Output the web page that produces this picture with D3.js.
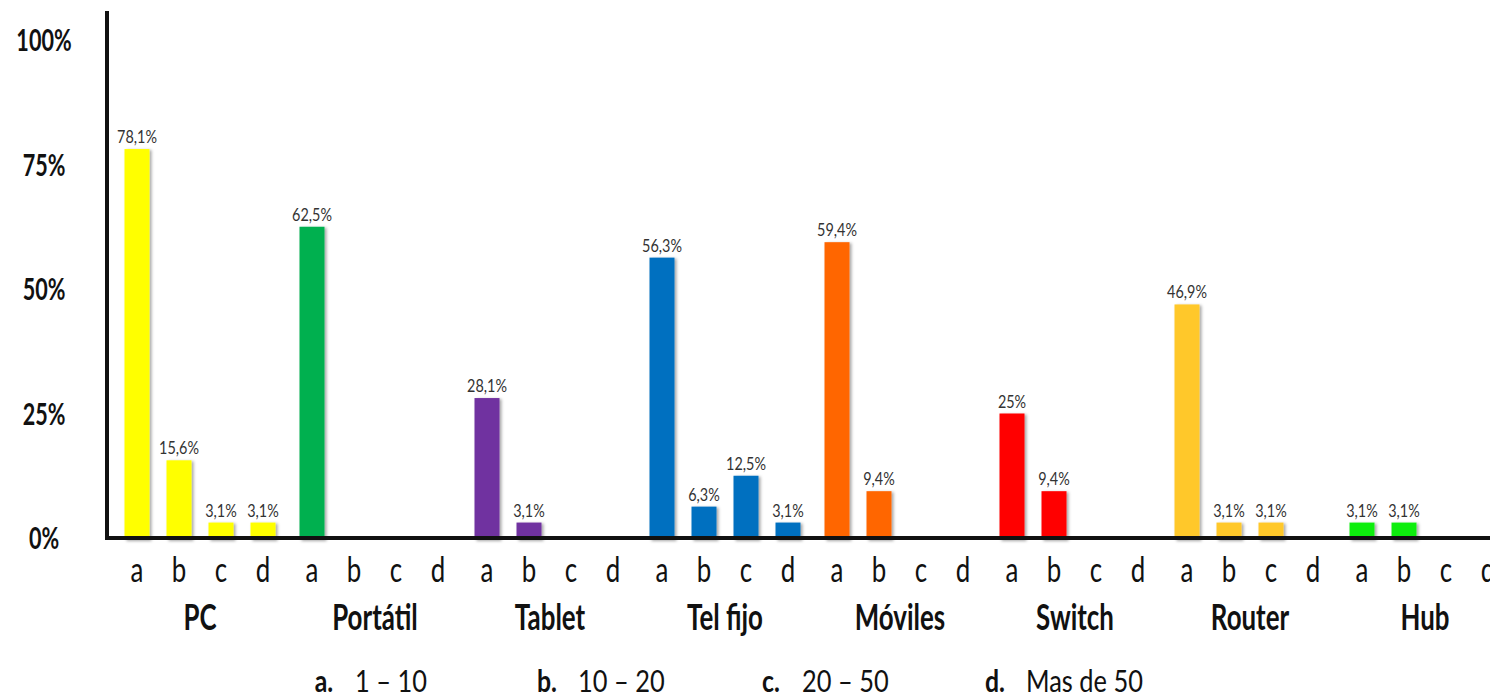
<!DOCTYPE html>
<html>
<head>
<meta charset="utf-8">
<script src="https://cdn.jsdelivr.net/npm/d3@7"></script>
<style>
  html, body { margin: 0; padding: 0; background: #fff; }
  svg { display: block; }
  text { font-family: Lato, "Open Sans", sans-serif; }
</style>
</head>
<body>
<svg id="chart" width="1490" height="699"></svg>
<script>
// Device types and the number ranges a–d
const categories = ["PC", "Portátil", "Tablet", "Tel fijo", "Móviles", "Switch", "Router", "Hub"];
const ranges = ["a", "b", "c", "d"];
const colors = ["#FFFF00", "#00B050", "#7030A0", "#0070C0", "#FF6600", "#FF0000", "#FFC82C", "#11EE11"];

// Percentages per device for ranges a, b, c, d (null = no bar)
const pcValues       = [78.1, 15.6, 3.1, 3.1];
const portatilValues = [62.5, null, null, null];
const tabletValues   = [28.1, 3.1, null, null];
const telFijoValues  = [56.3, 6.3, 12.5, 3.1];
const movilesValues  = [59.4, 9.4, null, null];
const switchValues   = [25, 9.4, null, null];
const routerValues   = [46.9, 3.1, 3.1, null];
const hubValues      = [3.1, 3.1, null, null];
const seriesValues = [pcValues, portatilValues, tabletValues, telFijoValues,
                      movilesValues, switchValues, routerValues, hubValues];

const yTicks = [0, 25, 50, 75, 100];
const legendKeys = ["a.", "b.", "c.", "d."];
const legendTexts = ["1 – 10", "10 – 20", "20 – 50", "Mas de 50"];

const svg = d3.select("#chart");

const x0 = d3.scaleBand().domain(categories).range([112.5, 1512.5]).paddingInner(0);
const x1 = d3.scalePoint().domain(ranges).range([24.5, 150.5]);
const y = d3.scaleLinear().domain([0, 100]).range([538, 40]);

const fmt = v => (Number.isInteger(v) ? String(v) : v.toFixed(1).replace(".", ",")) + "%";

// soft shadow under bars
const defs = svg.append("defs");
const f = defs.append("filter").attr("id", "shadow").attr("x", "-30%").attr("y", "-10%")
  .attr("width", "160%").attr("height", "130%");
f.append("feDropShadow").attr("dx", 2).attr("dy", 1).attr("stdDeviation", 1.5)
  .attr("flood-color", "#000").attr("flood-opacity", 0.35);

// text drawn horizontally condensed
function label(parent, x, yy, txt, opts) {
  const g = parent.append("g").attr("transform", `translate(${x},${yy})`);
  g.append("text")
    .attr("transform", `scale(${opts.sx},1)`)
    .attr("text-anchor", opts.anchor || "middle")
    .attr("font-size", opts.size)
    .attr("font-weight", opts.weight || 400)
    .attr("fill", opts.fill || "#111")
    .text(txt);
  return g;
}

const bars = [];
categories.forEach((c, i) => {
  ranges.forEach((r, j) => {
    bars.push({ cat: c, range: r, value: seriesValues[i][j], color: colors[i] });
  });
});

const barW = 25;
const plot = svg.append("g");

plot.selectAll("rect.bar")
  .data(bars.filter(d => d.value !== null))
  .join("rect")
  .attr("class", "bar")
  .attr("x", d => x0(d.cat) + x1(d.range) - barW / 2)
  .attr("y", d => y(d.value))
  .attr("width", barW)
  .attr("height", d => y(0) - y(d.value) + 2)
  .attr("fill", d => d.color)
  .attr("filter", "url(#shadow)");

// value labels
bars.filter(d => d.value !== null).forEach(d => {
  label(plot, x0(d.cat) + x1(d.range), y(d.value) - 6, fmt(d.value),
    { size: 18, sx: 0.8, fill: "#333" });
});

// axes lines
svg.append("line").attr("x1", 107).attr("x2", 107).attr("y1", 11).attr("y2", 539)
  .attr("stroke", "#111").attr("stroke-width", 4);
svg.append("line").attr("x1", 105).attr("x2", 1490).attr("y1", y(0)).attr("y2", y(0))
  .attr("stroke", "#111").attr("stroke-width", 4);

// y tick labels
yTicks.forEach(t => {
  label(svg, 44, y(t) + 11, t + "%", { size: 30, sx: 0.72, weight: 700 });
});

// range letters under each slot
bars.forEach(d => {
  label(svg, x0(d.cat) + x1(d.range), 582, d.range, { size: 35, sx: 0.74 });
});

// device names
categories.forEach(c => {
  label(svg, x0(c) + x0.bandwidth() / 2, 630, c, { size: 37, sx: 0.7, weight: 700 });
});

// legend of ranges
const legendX = [324, 547, 771, 995];
legendKeys.forEach((k, i) => {
  label(svg, legendX[i], 692, k, { size: 31, sx: 0.8, weight: 700, anchor: "middle" });
  label(svg, legendX[i] + 31, 692, legendTexts[i], { size: 31, sx: 0.82, anchor: "start" });
});
</script>
</body>
</html>
